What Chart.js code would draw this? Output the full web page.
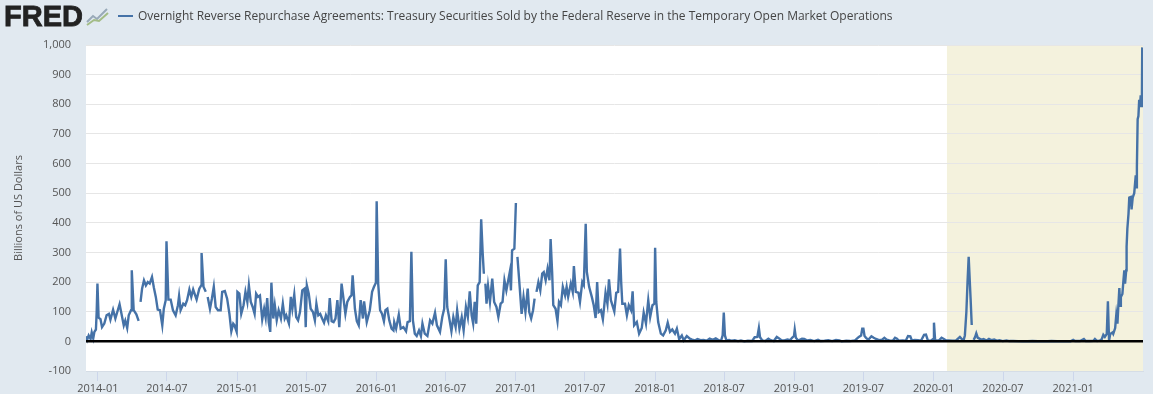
<!DOCTYPE html>
<html>
<head>
<meta charset="utf-8">
<title>Overnight Reverse Repurchase Agreements</title>
<script src="https://cdn.jsdelivr.net/npm/chart.js@4"></script>
<style>
  html, body { margin: 0; padding: 0; background: #e1e9f0; }
  #wrap { position: relative; width: 1153px; height: 394px; overflow: hidden; }
  #chart { position: absolute; left: 0; top: 0; }
  #logo { position: absolute; left: 4px; top: 0px; font: bold 29px "Liberation Sans", Arial, sans-serif; line-height: 33px; color: #222; -webkit-text-stroke: 0.8px #222; }
  #icon { position: absolute; left: 86px; top: 7px; }
  #key { position: absolute; left: 118px; top: 15px; width: 15px; height: 2px; background: #4572a7; }
  #title { position: absolute; left: 138px; top: 7px; font: 12px "Open Sans", sans-serif; line-height: 17px; color: #444; white-space: nowrap; }
</style>
</head>
<body>
<div id="wrap">
  <canvas id="chart" width="1153" height="394"></canvas>
  <div id="logo">FRED</div>
  <svg id="icon" width="24" height="20">
    <polyline points="1,15 7,9 11,12 21,2" fill="none" stroke="#98a9b8" stroke-width="2"/>
    <polyline points="1,18 8,13 13,14 22,6" fill="none" stroke="#a3bc86" stroke-width="2"/>
  </svg>
  <div id="key"></div>
  <div id="title">Overnight Reverse Repurchase Agreements: Treasury Securities Sold by the Federal Reserve in the Temporary Open Market Operations</div>
</div>
<script>
// days counted from 2014-01-01, values in billions, null = gap in the series
const sampleDays = [
  -31, -28, -24, -19, -16, -12, -9, -5, -3, -1,
  2, 7, 11, 17, 23, 29, 33, 40, 46, 51,
  57, 62, 68, 72, 77, 81, 87, 89, 94, 101,
  107, 110, 112, 116, 121, 126, 131, 136, 142, 147,
  152, 157, 163, 169, 173, 178, 180, 185, 191, 197,
  204, 210, 213, 217, 224, 229, 234, 240, 245, 250,
  259, 266, 271, 272, 277, 283, 285, 288, 294, 299,
  304, 309, 315, 322, 326, 333, 339, 345, 350, 355,
  358, 364, 366, 371, 376, 382, 387, 392, 396, 401,
  406, 411, 415, 420, 425, 431, 436, 440, 444, 448,
  452, 455, 460, 464, 469, 474, 480, 485, 490, 494,
  501, 506, 510, 515, 520, 525, 530, 536, 542, 545,
  548, 553, 558, 564, 569, 573, 578, 583, 588, 593,
  598, 604, 608, 613, 618, 623, 628, 633, 639, 644,
  649, 654, 661, 665, 668, 674, 679, 684, 689, 695,
  698, 705, 713, 719, 724, 729, 731, 735, 740, 745,
  750, 754, 759, 764, 770, 775, 777, 782, 789, 794,
  801, 808, 812, 818, 822, 826, 831, 836, 842, 847,
  851, 857, 864, 871, 877, 884, 889, 897, 903, 908,
  912, 916, 920, 927, 932, 938, 942, 948, 954, 959,
  965, 970, 975, 980, 984, 988, 992, 996, 1001, 1005,
  1009, 1012, 1014, 1016, 1019, 1023, 1028, 1034, 1039, 1045,
  1050, 1056, 1061, 1066, 1071, 1080, 1083, 1086, 1092, 1096,
  1098, 1100, 1105, 1111, 1116, 1121, 1127, 1131, 1136, 1141,
  1145, 1147, 1150, 1155, 1160, 1165, 1169, 1174, 1179, 1184,
  1187, 1191, 1194, 1200, 1205, 1209, 1214, 1219, 1225, 1229,
  1233, 1240, 1245, 1248, 1253, 1260, 1264, 1270, 1274, 1279,
  1282, 1288, 1295, 1300, 1305, 1309, 1313, 1319, 1324, 1331,
  1336, 1340, 1345, 1354, 1359, 1364, 1369, 1372, 1375, 1382,
  1387, 1392, 1398, 1402, 1406, 1413, 1419, 1426, 1431, 1437,
  1443, 1448, 1454, 1459, 1461, 1464, 1469, 1476, 1482, 1489,
  1494, 1500, 1506, 1513, 1518, 1524, 1531, 1536, 1544, 1552,
  1558, 1565, 1572, 1580, 1588, 1596, 1604, 1612, 1620, 1628,
  1634, 1638, 1641, 1644, 1648, 1655, 1662, 1670, 1678, 1686,
  1695, 1704, 1715, 1722, 1729, 1733, 1736, 1742, 1750, 1758,
  1764, 1772, 1780, 1786, 1793, 1800, 1808, 1815, 1820, 1825,
  1827, 1830, 1836, 1846, 1852, 1860, 1868, 1878, 1888, 1895,
  1905, 1915, 1925, 1935, 1944, 1950, 1962, 1972, 1985, 1995,
  2001, 2004, 2007, 2010, 2014, 2020, 2028, 2034, 2040, 2048,
  2056, 2062, 2068, 2075, 2084, 2090, 2095, 2100, 2110, 2118,
  2124, 2130, 2134, 2142, 2150, 2158, 2166, 2171, 2176, 2184,
  2190, 2192, 2195, 2200, 2206, 2212, 2218, 2224, 2230, 2240,
  2250, 2260, 2265, 2270, 2273, 2277, 2280, 2283, 2286, 2288,
  2291, 2294, 2296, 2300, 2303, 2307, 2310, 2316, 2322, 2330,
  2336, 2342, 2350, 2358, 2364, 2372, 2382, 2390, 2400, 2425,
  2450, 2480, 2500, 2530, 2550, 2557, 2562, 2575, 2585, 2590,
  2600, 2610, 2614, 2620, 2628, 2632, 2636, 2640, 2645, 2648,
  2651, 2654, 2660, 2662, 2667, 2670, 2673, 2675, 2678, 2680,
  2682, 2686, 2689, 2691, 2693, 2696, 2697, 2699, 2702, 2704,
  2708, 2710, 2713, 2717, 2721, 2723, 2724, 2726, 2728, 2730,
  2732, 2734, 2737, 2738
];
const repoValues = [
  17, 5, 20, 8, 30, 10, 32, 40, 100, 195,
  80, 75, 48, 60, 88, 93, 73, 107, 77, 99,
  125, 93, 54, 70, 45, 88, 105, 240, 105, 91,
  69, null, 133, 178, 206, 189, 200, 195, 217, 181,
  150, 107, 105, 54, 110, 139, 338, 141, 141, 105,
  88, 122, 153, 105, 127, 122, 139, 175, 150, 175,
  141, 178, 189, 298, 184, 167, null, 150, 110, 144,
  184, 116, 105, 105, 167, 170, 144, 93, 34, 60,
  55, 32, 167, 161, 93, 122, 167, 133, 189, 133,
  116, 93, 161, 150, 155, 74, 110, 80, 146, 65,
  32, 198, 77, 122, 71, 105, 77, 127, 77, 88,
  60, 150, 110, 158, 82, 71, 99, 172, 178, 48,
  189, 161, 110, 99, 71, 127, 88, 93, 77, 63,
  88, 68, 146, 68, 65, 77, 139, 48, 195, 144,
  93, 133, 150, 155, 223, 110, 68, 54, 139, 77,
  135, 65, 105, 167, 184, 198, 473, 195, 105, 93,
  68, 105, 110, 71, 43, 37, 65, 43, 90, 43,
  48, 34, 65, 68, 302, 71, 26, 18, 37, 18,
  60, 26, 18, 71, 60, 97, 54, 32, 82, 110,
  277, 116, 88, 34, 82, 48, 105, 43, 82, 37,
  116, 82, 169, 88, 60, 133, 60, 189, 200, 412,
  296, 228, null, 195, 127, 187, 133, 212, 133, 116,
  82, 127, 133, 206, 172, 234, 172, 307, 313, 467,
  null, 285, 200, 93, 150, 99, 178, 99, 77, 105,
  144, null, 167, 200, 172, 229, 234, 206, 245, 206,
  345, 234, 122, 110, 68, 133, 122, 184, 155, 184,
  150, 195, 167, 254, 167, 164, 133, 200, 190, 397,
  234, 184, 150, 122, 79, 200, 99, 105, 74, 164,
  127, 209, 139, 101, 164, 167, 313, 200, 127, 127,
  88, 122, 105, 169, 54, 65, 26, 45, 97, 60,
  139, 82, 122, 127, 316, 133, 65, 26, 20, 37,
  63, 32, 40, 26, 43, 7, 20, 3, 18, 9,
  6, 3, 8, 4, 5, 2, 9, 5, 10, 4,
  3, 20, 97, 20, 3, 5, 2, 4, 1, 3,
  0, 2, 1, 14, 15, 45, 14, 3, 1, 9,
  4, 1, 15, 10, 3, 3, 6, 4, 12, 18,
  40, 12, 3, 9, 8, 3, 5, 1, 5, 1,
  2, 4, 1, 5, 3, 0, 2, 1, 3, 15,
  20, 43, 43, 18, 12, 5, 17, 12, 8, 4,
  6, 12, 6, 3, 2, 12, 9, 2, 3, 2,
  18, 17, 3, 5, 4, 2, 22, 23, 3, 2,
  8, 63, 5, 2, 4, 12, 8, 3, 3, 2,
  3, 15, 8, 5, 20, 100, 200, 285, 200, 145,
  55, null, 5, 15, 27, 12, 10, 5, 8, 3,
  8, 4, 6, 2, 4, 1, 3, 1, 1, 0,
  1, 0, 1, 0, 0, 5, 1, 1, 8, 1,
  1, 2, 8, 1, 3, 8, 22, 15, 25, 135,
  2, 25, 30, 25, 45, 90, 60, 110, 180, 120,
  150, 160, 210, 240, 195, 240, 320, 380, 430, 485,
  487, 445, 485, 500, 560, 520, 590, 750, 760, 815,
  790, 830, 790, 992
];
const xTickLabels = [
  "2014-01", "2014-07", "2015-01", "2015-07", "2016-01", "2016-07", "2017-01", "2017-07",
  "2018-01", "2018-07", "2019-01", "2019-07", "2020-01", "2020-07", "2021-01"
];
const shadeStartDay = 2226;

const monthToDay = (s) => {
  const [y, m] = s.split("-").map(Number);
  return (Date.UTC(y, m - 1, 1) - Date.UTC(2014, 0, 1)) / 86400000;
};
const tickFont = { family: "'Open Sans', sans-serif", size: 11 };

const plotDecor = {
  id: "plotDecor",
  beforeDraw(chart) {
    const { ctx, chartArea: a, scales } = chart;
    ctx.save();
    ctx.fillStyle = "#ffffff";
    ctx.fillRect(a.left, a.top, a.width, a.height);
    ctx.fillStyle = "#f4f2dd";
    const bandLeft = scales.x.getPixelForValue(shadeStartDay);
    ctx.fillRect(bandLeft, a.top, a.right - bandLeft, a.height);
    ctx.restore();
  },
  afterDatasetsDraw(chart) {
    const { ctx, chartArea: a, scales } = chart;
    const y0 = scales.y.getPixelForValue(0);
    ctx.save();
    ctx.strokeStyle = "#000000";
    ctx.lineWidth = 2.5;
    ctx.beginPath();
    ctx.moveTo(a.left, y0);
    ctx.lineTo(a.right, y0);
    ctx.stroke();
    ctx.restore();
  },
};

new Chart(document.getElementById("chart"), {
  type: "line",
  data: {
    datasets: [
      {
        data: sampleDays.map((d, i) => ({ x: d, y: repoValues[i] })),
        borderColor: "#4572a7",
        borderWidth: 2.4,
        pointRadius: 0,
        tension: 0,
        spanGaps: false,
      },
    ],
  },
  options: {
    responsive: false,
    animation: false,
    layout: { padding: { top: 45, right: 10, left: 0, bottom: 0 } },
    plugins: { legend: { display: false }, tooltip: { enabled: false } },
    scales: {
      x: {
        type: "linear",
        min: -31,
        max: 2740,
        afterFit: (scale) => { scale.height = 23; },
        afterBuildTicks: (scale) => {
          scale.ticks = xTickLabels.map((l) => ({ value: monthToDay(l), label: l }));
        },
        ticks: {
          autoSkip: false,
          maxRotation: 0,
          padding: 1,
          color: "#555555",
          font: tickFont,
          callback: (v) => xTickLabels.find((l) => monthToDay(l) === v) || "",
        },
        grid: { drawOnChartArea: false, color: "#ccd6eb", tickLength: 10 },
        border: { color: "#d5dde6" },
      },
      y: {
        min: -100,
        max: 1000,
        afterFit: (scale) => { scale.width = 86; },
        ticks: {
          stepSize: 100,
          padding: 15,
          color: "#555555",
          font: tickFont,
          callback: (v) => v.toLocaleString("en-US"),
        },
        grid: { color: "#e6e6e6", drawTicks: false },
        border: { display: false },
        title: {
          display: true,
          text: "Billions of US Dollars",
          color: "#555555",
          font: tickFont,
          padding: { top: 12, bottom: 0 },
        },
      },
    },
  },
  plugins: [plotDecor],
});
</script>
</body>
</html>
